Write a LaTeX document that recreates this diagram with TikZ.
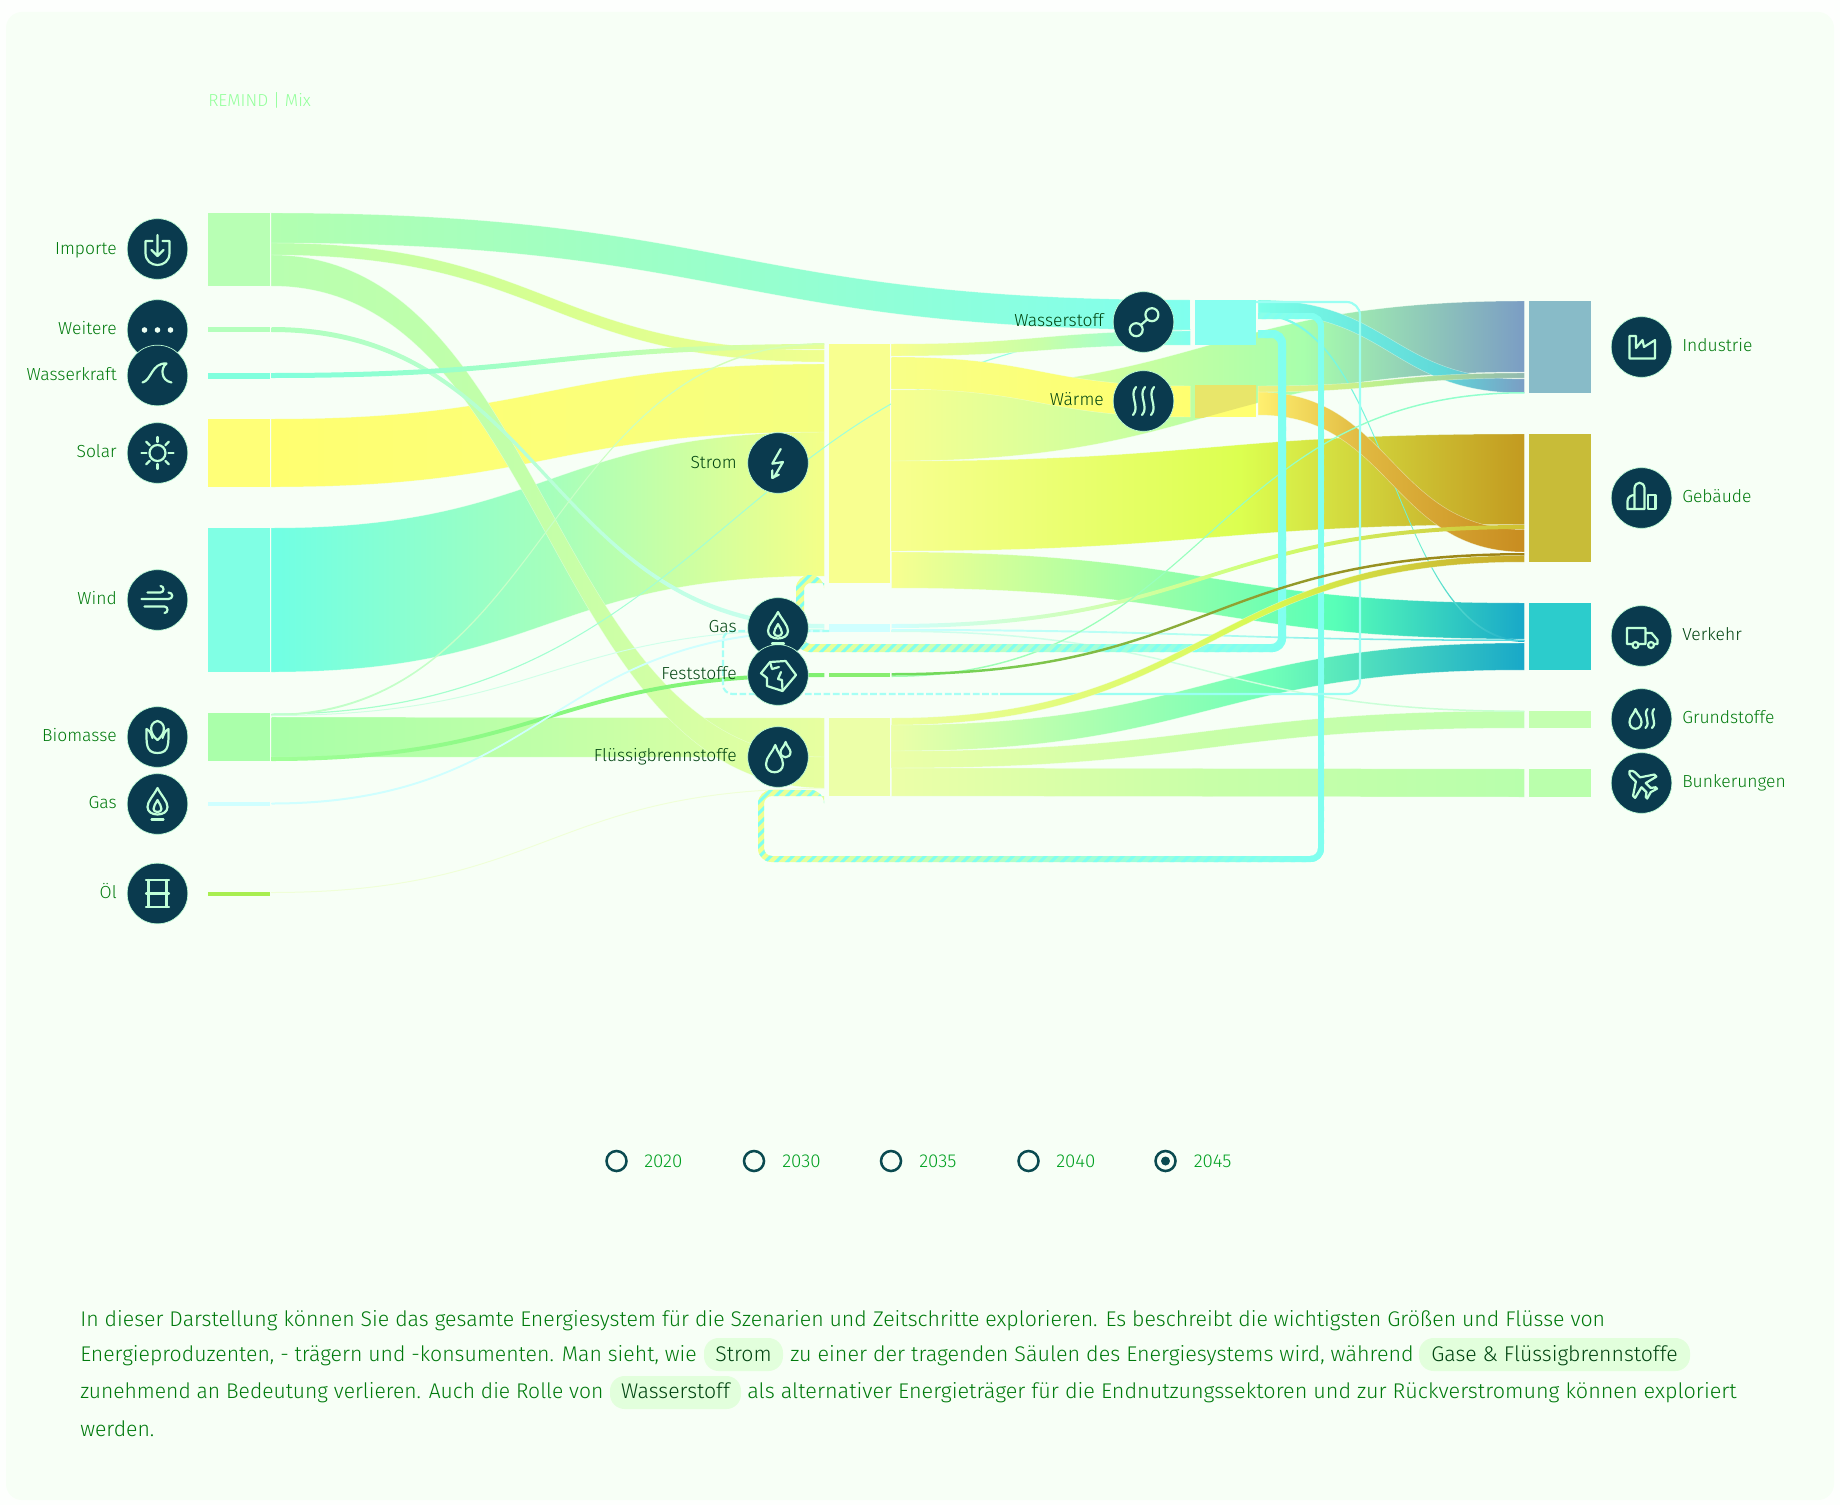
\documentclass[tikz,border=0pt]{standalone}
\usepackage{graphicx}
\usepackage{fontspec}
\setmainfont{Fira Sans Light}
\usetikzlibrary{calc}
\definecolor{pagebg}{HTML}{FDFFFD}
\definecolor{cardbg}{HTML}{F7FFF6}
\definecolor{iconbg}{HTML}{0A3A4E}
\definecolor{iconline}{HTML}{C0FFD8}
\definecolor{labelcol}{HTML}{007A0C}
\definecolor{darklab}{HTML}{004410}
\definecolor{yearcol}{HTML}{00A020}
\definecolor{pillcol}{HTML}{E2FFDC}
\definecolor{cyanloop}{HTML}{80FFF0}
\definecolor{radiocol}{HTML}{0A4A50}
\definecolor{titlecol}{HTML}{94FF9C}
\definecolor{loopyel}{HTML}{F0FF90}
\definecolor{loopmidA}{HTML}{B0FFD0}
\definecolor{loopmidB}{HTML}{A8FFD0}
\definecolor{edgecol}{HTML}{F0FFF0}
\definecolor{waeover}{HTML}{E8E66A}
\newcommand\mkshade[5]{\pgfdeclarehorizontalshading{#1}{100bp}{color(0bp)=(#2);color(25bp)=(#2);color(#3bp)=(#4);color(75bp)=(#5);color(100bp)=(#5)}}
\newcommand\hexcol[2]{\definecolor{#1}{HTML}{#2}}
\newcommand\mkflow[5]{\hexcol{#1a}{#2}\hexcol{#1b}{#4}\hexcol{#1c}{#5}\pgfmathsetmacro\stoppos{25+#3/2}\edef\tmpa{\noexpand\mkshade{#1}{#1a}{\stoppos}{#1b}{#1c}}\tmpa}
\mkflow{sImpH}{B2FFB0}{50}{98FFCC}{80FFEE}
\mkflow{sImpS}{B8FFB0}{50}{D8FF90}{F0FF90}
\mkflow{sImpF}{B8FFB0}{50}{C4FFA8}{E8FFA0}
\mkflow{sWei}{B0FFBC}{50}{B8FFD8}{CCFFF4}
\mkflow{sWas}{80FFDD}{50}{A8FFC0}{E8FF98}
\mkflow{sSol}{FFFF70}{50}{FCFF78}{F4FF80}
\mkflow{sWin}{70FFE4}{50}{A5FFBC}{F4FF88}
\mkflow{sBioH}{A8FFC8}{50}{A0FFD8}{90FFE8}
\mkflow{sBioS}{C0FFC8}{50}{C8FFC8}{D8FFB0}
\mkflow{sBioG}{D0FFE0}{50}{D0FFE8}{D0FFF0}
\mkflow{sBioX}{A0FF98}{50}{88F880}{80F070}
\mkflow{sBioF}{A8FFA8}{50}{C0FFA8}{E8FFA0}
\mkflow{sGasG}{CFFFFF}{50}{CFFFFF}{CFFFFF}
\mkflow{sOel}{F0FFD8}{50}{F0FFD8}{F0FFD8}
\mkflow{sStH}{F8FF90}{50}{C8FFA8}{80FFEE}
\mkflow{sStW}{F8FF88}{50}{FBFF78}{FFFF70}
\mkflow{sStI}{F8FF90}{65}{A8FFAC}{7B9DC4}
\mkflow{sStB}{F8FF90}{55}{DCFF50}{C39A20}
\mkflow{sStV}{F8FF90}{70}{58FFB8}{18A8C8}
\mkflow{sHI}{7AFFE8}{70}{60D8D8}{7B9DC4}
\mkflow{sHV}{80FFF0}{60}{70F0D0}{18A8C8}
\mkflow{sWaI}{F0F080}{50}{B8F090}{90B8B0}
\mkflow{sWaB}{FFF070}{40}{E0B840}{C88C20}
\mkflow{sGB}{D0FFFF}{60}{D0FF70}{D0C030}
\mkflow{sGV}{CCFFFF}{50}{B0FFF0}{50D8E0}
\mkflow{sGU}{D0FFF0}{50}{CCFFE0}{C8FFD0}
\mkflow{sFB}{70E060}{55}{90A030}{A08010}
\mkflow{sFI}{A0FFB0}{50}{98FFC0}{90FFD0}
\mkflow{sLB}{ECFFA0}{60}{D8F850}{C8A828}
\mkflow{sLV}{ECFFA8}{60}{70FFB8}{18A8C8}
\mkflow{sLG}{ECFFA8}{50}{C8FFA8}{C0FFB0}
\mkflow{sLK}{ECFFA8}{50}{C8FFA8}{B8FFAC}
\newcommand\flowpath[6]{%
  \coordinate (fs) at ([xshift=1.5pt]#1.east);
  \coordinate (fe) at ([xshift=-3.4pt]#4.west);
  \coordinate (fm) at ($(fs)!.5!(fe)$);
  \def\bandpath{(fs |- 0,#2) .. controls (fm |- 0,#2) and (fm |- 0,#5) .. (fe |- 0,#5)
    -- (fe |- 0,#6) .. controls (fm |- 0,#6) and (fm |- 0,#3) .. (fs |- 0,#3) -- cycle}}
\newcommand\flow[7]{\flowpath{#1}{#2}{#3}{#4}{#5}{#6}\path[shade,shading=#7,draw=edgecol,draw opacity=.5,line width=.35pt] \bandpath;}
\newcommand\thinflow[7]{\flowpath{#1}{#2}{#3}{#4}{#5}{#6}\path[shade,shading=#7] \bandpath;}
\newcommand\flowbar[6]{\hexcol{c#1}{#6}\node[barbox,fill=c#1,minimum width={(#3-#2)*.75pt},minimum height={(#5-#4)*.75pt}] (#1) at ({(#2+#3)/2},{(#4+#5)/2}) {};}
\newcommand\hatches{\foreach \c in {1000,1011,...,2300}{\draw[cyanloop,line width=2.2pt] (\c-200,200)--(\c-1000,1000);}}
\tikzset{
  barbox/.style={rectangle,inner sep=0pt,outer sep=0pt,draw=none},
  iconcirc/.style={circle,fill=iconbg,draw=iconline,line width=.5pt,minimum size=45.5pt,inner sep=0pt},
  ico/.style={draw=iconline,line width=1.65pt,line cap=round,line join=round},
  lab/.style={anchor=base east,text=labelcol,font=\fontsize{13.1pt}{15pt}\selectfont,inner sep=0pt},
  rlab/.style={anchor=base west,text=labelcol,font=\fontsize{13.1pt}{15pt}\selectfont,inner sep=0pt},
  para/.style={anchor=base west,text=labelcol,font=\fontsize{15.93pt}{18pt}\selectfont,inner sep=0pt},
  pill/.style={rectangle,rounded corners=11pt,fill=pillcol,inner sep=0pt},
  radio/.style={circle,draw=radiocol,line width=1.9pt,fill=none,minimum size=15pt,inner sep=0pt},
  yearlab/.style={anchor=base west,text=yearcol,font=\fontsize{14pt}{15pt}\selectfont,inner sep=0pt},
}
\newcommand\icongas{\draw[ico] (0,-16) .. controls (-4,-8) and (-10,-3) .. (-10,3) .. controls (-10,13) and (10,13) .. (10,3) .. controls (10,-3) and (4,-8) .. (0,-16) -- cycle;
  \draw[ico] (0,-4) .. controls (-2,0) and (-4,2) .. (-4,5) .. controls (-4,9) and (4,9) .. (4,5) .. controls (4,2) and (2,0) .. (0,-4) -- cycle;
  \draw[ico] (-6,15.5) -- (6,15.5);}
\begin{document}
\begin{tikzpicture}[x=.75pt,y=-.75pt]
\useasboundingbox (0,0) rectangle (1840,1505);
\fill[pagebg] (0,0) rectangle (1840,1505);
\fill[cardbg,rounded corners=12pt] (6,12) rectangle (1834,1500);
\node[anchor=base west,text=titlecol,font=\fontsize{13pt}{15pt}\selectfont,inner sep=0pt] (title) at (208,107) {REMIND | Mix};
\flowbar{bImp}{208}{269.5}{213}{286}{B8FFB4}
\flowbar{bWei}{208}{269.5}{327}{332}{B4FFBC}
\flowbar{bWas}{208}{269.5}{373}{378.5}{80FFDD}
\flowbar{bSol}{208}{269.5}{419}{487}{FFFF78}
\flowbar{bWin}{208}{269.5}{528}{672}{80FFE4}
\flowbar{bBio}{208}{269.5}{713}{761}{AAFFAA}
\flowbar{bGas}{208}{269.5}{802}{806}{CFFFFF}
\flowbar{bOel}{208}{269.5}{892}{896}{A8EE50}
\flowbar{bStrom}{829}{889.5}{344}{583}{F8FF90}
\flowbar{bGasM}{829}{889.5}{624}{632}{CFFFFF}
\flowbar{bFest}{829}{889.5}{673}{677}{88EE70}
\flowbar{bFl}{829}{889.5}{718}{796}{ECFFA8}
\flowbar{bH2}{1195}{1256}{300}{345}{88FFF0}
\flowbar{bWae}{1195}{1256}{385}{417}{FFFF70}
\flowbar{bInd}{1529}{1590.5}{301}{393}{88BBC8}
\flowbar{bGeb}{1529}{1590.5}{434}{562}{C8BC38}
\flowbar{bVer}{1529}{1590.5}{603}{670}{2CCCCC}
\flowbar{bGru}{1529}{1590.5}{711}{728}{C4FFB0}
\flowbar{bBun}{1529}{1590.5}{769}{797}{BAFFAC}
% inputs, bottom to top
\flow{bWin}{528}{672}{bStrom}{432}{576}{sWin}
\flow{bSol}{419}{487}{bStrom}{364}{432}{sSol}
\flow{bBio}{717}{757}{bFl}{718}{757}{sBioF}
\flow{bImp}{213}{243}{bH2}{300}{330}{sImpH}
\flow{bImp}{243}{255}{bStrom}{350}{362}{sImpS}
\flow{bImp}{255}{286}{bFl}{757}{788}{sImpF}
\thinflow{bWei}{327}{332}{bGasM}{624}{628.5}{sWei}
\thinflow{bWas}{373}{378}{bStrom}{344}{349}{sWas}
\thinflow{bBio}{713.5}{714.7}{bH2}{329}{330.2}{sBioH}
\thinflow{bBio}{714}{716}{bStrom}{343}{344.5}{sBioS}
\thinflow{bBio}{715}{716}{bGasM}{629}{630}{sBioG}
\thinflow{bBio}{757}{761}{bFest}{673}{677}{sBioX}
\thinflow{bGas}{802.5}{804.5}{bGasM}{630}{632}{sGasG}
\thinflow{bOel}{892}{893}{bFl}{788}{789}{sOel}
% outputs of Strom
\flow{bStrom}{344}{356}{bH2}{331}{345}{sStH}
\flow{bStrom}{390}{461}{bInd}{301}{372}{sStI}
\flow{bStrom}{357}{389}{bWae}{386}{417}{sStW}
\fill[cbH2] (bH2.north west) rectangle (bH2.south east);
\fill[cbWae] (bWae.north west) rectangle (bWae.south east);
\begin{scope}
\clip (bWae.north west) rectangle (bWae.south east);
\flowpath{bStrom}{390}{461}{bInd}{301}{372}\fill[waeover] \bandpath;
\end{scope}
\flow{bStrom}{461}{551}{bGeb}{434}{524.5}{sStB}
\flow{bStrom}{552}{588}{bVer}{603}{639}{sStV}
\flow{bFl}{725}{751}{bVer}{643}{670}{sLV}
\flow{bFl}{751}{768}{bGru}{711}{728}{sLG}
\flow{bFl}{768}{796}{bBun}{769}{797}{sLK}
% Wasserstoff, Waerme
\flow{bH2}{300}{313}{bInd}{379}{393}{sHI}
\thinflow{bH2}{313}{315.5}{bVer}{640}{642}{sHV}
\flow{bWae}{386}{392}{bInd}{373}{378}{sWaI}
\flow{bWae}{392}{415}{bGeb}{529.5}{552}{sWaB}
% Gas
\thinflow{bGasM}{624}{628}{bGeb}{525}{529}{sGB}
\thinflow{bGasM}{629}{631}{bVer}{639.5}{641}{sGV}
\thinflow{bGasM}{630.5}{632}{bGru}{710.5}{712}{sGU}
\thinflow{bFest}{675.5}{677}{bInd}{392}{393.5}{sFI}
% return loops
\def\ringA{(1258,330) [rounded corners=10pt] -- (1286,330) -- (1286,652) -- (796,652) -- (796,575) -- (824,575) [sharp corners] -- (824,583) -- (815,583) [rounded corners=5pt] -- (804,583) -- (804,644) -- (1278,644) -- (1278,338) -- (1268,338) [sharp corners] -- (1258,338) -- cycle}
\def\ringB{(1258,313) [rounded corners=10pt] -- (1324,313) -- (1324,862) -- (758,862) -- (758,790) -- (824,790) [sharp corners] -- (824,796) -- (815,796) [rounded corners=6pt] -- (764,796) -- (764,856) -- (1318,856) -- (1318,319) -- (1268,319) [sharp corners] -- (1258,319) -- cycle}
\path[shade,left color=loopyel,right color=cyanloop,middle color=loopmidB] \ringB;
\begin{scope}\clip \ringB; \hatches \end{scope}
\path[shade,left color=loopyel,right color=cyanloop,middle color=loopmidA] \ringA;
\begin{scope}\clip \ringA; \hatches \end{scope}
\draw[cyanloop!70!white,line width=1.6pt,dashed,dash pattern=on 5pt off 2pt,rounded corners=7pt] (bGasM.west |- 0,631) -- (723,631) -- (723,694) -- (1000,694);
\draw[cyanloop!80!white,line width=1.6pt,rounded corners=10pt] (1000,694) -- (1360,694) -- (1360,302) -- (bH2.east |- 0,302);
\thinflow{bFest}{673}{675.5}{bGeb}{553}{555.5}{sFB}
\flow{bFl}{718}{725}{bGeb}{555.5}{562}{sLB}
% icons and labels
\node[iconcirc] (iImp) at (157.5,249) {};
\node[iconcirc] (iWei) at (157.5,330) {};
\node[iconcirc] (iWas) at (157.5,375.5) {};
\node[iconcirc] (iSol) at (157.5,453) {};
\node[iconcirc] (iWin) at (157.5,600) {};
\node[iconcirc] (iBio) at (157.5,737) {};
\node[iconcirc] (iGas) at (157.5,804) {};
\node[iconcirc] (iOel) at (157.5,893.5) {};
\node[iconcirc] (iStr) at (778,463) {};
\node[iconcirc] (iGaM) at (778,628) {};
\node[iconcirc] (iFes) at (778,675) {};
\node[iconcirc] (iFlu) at (778,757) {};
\node[iconcirc] (iH2) at (1143.5,322) {};
\node[iconcirc] (iWae) at (1143.5,401) {};
\node[iconcirc] (iInd) at (1641.5,347) {};
\node[iconcirc] (iGeb) at (1641.5,498) {};
\node[iconcirc] (iVer) at (1641.5,636) {};
\node[iconcirc] (iGru) at (1641.5,719) {};
\node[iconcirc] (iBun) at (1641.5,783) {};
\begin{scope}[shift={(iImp)}]
\draw[ico] (-5,-8) -- (-12,-8) -- (-12,4) .. controls (-12,20) and (12,20) .. (12,4) -- (12,-8) -- (5,-8);
\draw[ico] (0,-14) -- (0,7) (-6,1) -- (0,7) -- (6,1);
\end{scope}
\begin{scope}[shift={(iWei)}]
\fill[iconline!30!white] (-13,0) circle[radius=2.8] (0,0) circle[radius=2.8] (13,0) circle[radius=2.8];
\end{scope}
\begin{scope}[shift={(iWas)}]
\draw[ico] (-15,7) .. controls (-6,5) and (-6,-13) .. (9,-12) .. controls (3,-8) and (3,5) .. (14,7);
\end{scope}
\begin{scope}[shift={(iSol)}]
\draw[ico] (0,0) circle[radius=8];
\foreach \a in {0,45,...,315}{\draw[ico] (\a:11) -- (\a:16);}
\end{scope}
\begin{scope}[shift={(iWin)}]
\draw[ico] (-10,-7.5) -- (3,-7.5) .. controls (7,-7.5) and (7,-14) .. (3,-14);
\draw[ico] (-16,-1) -- (11,-1) .. controls (16,-1) and (16,-7.5) .. (11,-7.5);
\draw[ico] (-13,6.5) -- (7,6.5) .. controls (11,6.5) and (11,13) .. (7,13);
\end{scope}
\begin{scope}[shift={(iBio)}]
\draw[ico] (0,-16) .. controls (-9,-14) and (-8,-3) .. (0,3) .. controls (8,-3) and (9,-14) .. (0,-16) -- cycle;
\draw[ico] (-11,-8) .. controls (-11,6) and (-12,16) .. (0,16) .. controls (12,16) and (11,6) .. (11,-8) .. controls (7,-6) and (6,-2) .. (5,1);
\draw[ico] (-11,-8) .. controls (-7,-6) and (-6,-2) .. (-5,1);
\end{scope}
\begin{scope}[shift={(iGas)}]\icongas\end{scope}
\begin{scope}[shift={(iGaM)}]\icongas\end{scope}
\begin{scope}[shift={(iOel)}]
\draw[ico] (-11.5,-13.5) -- (11.5,-13.5) (-11.5,0) -- (11.5,0) (-11.5,13.5) -- (11.5,13.5) (-9,-13.5) -- (-9,13.5) (9,-13.5) -- (9,13.5);
\end{scope}
\begin{scope}[shift={(iStr)}]
\draw[ico] (2.7,-14) -- (-5.7,.7) -- (5,-1) -- (-3.8,14) (-5.7,7.3) -- (-5.7,15) -- (.8,11.7);
\end{scope}
\begin{scope}[shift={(iFes)}]
\draw[ico] (-17,-1.7) -- (-8,-13) -- (7.6,-14) -- (18,0) -- (4.5,16) -- (-11,11) -- (-11,3) -- cycle;
\draw[ico] (-8,-13) -- (-6,-6) -- (1,-8) (3,-3) -- (0,4) -- (4,5) -- (4.5,16);
\end{scope}
\begin{scope}[shift={(iFlu)}]
\draw[ico] (-2.7,-12) .. controls (-5,-5) and (-12,0) .. (-12,7) .. controls (-12,18) and (5,18) .. (5,7) .. controls (5,0) and (-1,-5) .. (-2.7,-12) -- cycle;
\draw[ico] (7.6,-15) .. controls (6,-10) and (2.5,-8) .. (2.5,-5) .. controls (2.5,2) and (12.5,2) .. (12.5,-5) .. controls (12.5,-8) and (9,-10) .. (7.6,-15) -- cycle;
\end{scope}
\begin{scope}[shift={(iH2)}]
\draw[ico] (8.4,-7.3) circle[radius=6.5] (-7.3,7.7) circle[radius=6.5] (3.9,-2.8) -- (-2.8,3.2);
\end{scope}
\begin{scope}[shift={(iWae)}]
\foreach \x in {-9,0,9}{\draw[ico] (\x+1.5,-14) .. controls (\x-6,-6) and (\x+6,6) .. (\x-1.5,14);}
\end{scope}
\begin{scope}[shift={(iInd)}]
\draw[ico] (-12,-11) -- (-5.5,-11) -- (-5.5,1) -- (1,-7) -- (2.5,0) -- (13.5,-7) -- (13.5,11.5) -- (-12,11.5) -- cycle;
\end{scope}
\begin{scope}[shift={(iGeb)}]
\draw[ico] (-14,11) -- (-14,3) .. controls (-14,-1) and (-10,-3) .. (-7,-3) (-7,11) -- (-7,-10) .. controls (-6,-17) and (2,-17) .. (3,-10) -- (3,11) (-14,11) -- (3,11);
\draw[ico] (6.5,-3) rectangle (14,11);
\end{scope}
\begin{scope}[shift={(iVer)}]
\draw[ico] (-9,8) -- (-14.5,8) -- (-14.5,-8) -- (4,-8) -- (4,8) -- (-3,8) (4,-3) -- (10,-3) -- (16,4) -- (16,8) -- (13,8);
\draw[ico] (-6,9) circle[radius=3] (9.5,9) circle[radius=3];
\end{scope}
\begin{scope}[shift={(iGru)}]
\draw[ico] (-6,-10) .. controls (-7.5,-5) and (-12,-2) .. (-12,3) .. controls (-12,12) and (0,12) .. (0,3) .. controls (0,-2) and (-4.5,-5) .. (-6,-10) -- cycle;
\foreach \x in {6,12.5}{\draw[ico] (\x,-10) .. controls (\x-5,-4) and (\x+4,3) .. (\x-2,9);}
\end{scope}
\begin{scope}[shift={(iBun)},rotate=45]
\draw[ico] (0,-17) .. controls (2,-16) and (3,-14) .. (3,-12) -- (3,-5) -- (15,3) -- (15,6) -- (3,3) -- (3,10) -- (7,13) -- (7,15) -- (0,13) -- (-7,15) -- (-7,13) -- (-3,10) -- (-3,3) -- (-15,6) -- (-15,3) -- (-3,-5) -- (-3,-12) .. controls (-3,-14) and (-2,-16) .. (0,-17) -- cycle;
\end{scope}
\node[lab] (lImp) at (117,254) {Importe};
\node[lab] (lWei) at (117,334) {Weitere};
\node[lab] (lWas) at (117,380) {Wasserkraft};
\node[lab] (lSol) at (117,457) {Solar};
\node[lab] (lWin) at (117,604) {Wind};
\node[lab] (lBio) at (117,741) {Biomasse};
\node[lab] (lGas) at (117,808) {Gas};
\node[lab] (lOel) at (117,898) {Öl};
\node[lab,text=darklab] (lStr) at (737,468) {Strom};
\node[lab,text=darklab] (lGaM) at (737,632) {Gas};
\node[lab,text=darklab] (lFes) at (737,679) {Feststoffe};
\node[lab,text=darklab] (lFlu) at (737,761) {Flüssigbrennstoffe};
\node[lab,text=darklab] (lH2) at (1104,326) {Wasserstoff};
\node[lab,text=darklab] (lWae) at (1104,405) {Wärme};
\node[rlab] (lInd) at (1682,351) {Industrie};
\node[rlab] (lGeb) at (1682,502) {Gebäude};
\node[rlab,text=darklab] (lVer) at (1682,640) {Verkehr};
\node[rlab] (lGru) at (1682,723) {Grundstoffe};
\node[rlab] (lBun) at (1682,787) {Bunkerungen};
% year selector
\node[radio] (r20) at (616.5,1161) {};
\node[radio] (r30) at (754,1161) {};
\node[radio] (r35) at (891,1161) {};
\node[radio] (r40) at (1028.5,1161) {};
\node[radio] (r45) at (1165.5,1161) {};
\fill[radiocol] (r45.center) circle[radius=4.5];
\node[yearlab] (y20) at (644,1167) {2020};
\node[yearlab] (y30) at (782,1167) {2030};
\node[yearlab] (y35) at (919,1167) {2035};
\node[yearlab] (y40) at (1056,1167) {2040};
\node[yearlab] (y45) at (1193.5,1167) {2045};
% paragraph
\node[pill,minimum width={79*.75pt},minimum height={33*.75pt}] (pS) at (743.5,1354.5) {};
\node[pill,minimum width={271*.75pt},minimum height={33*.75pt}] (pG) at (1554.5,1354.5) {};
\node[pill,minimum width={131*.75pt},minimum height={33*.75pt}] (pW) at (675.5,1392.5) {};
\node[para] (t1) at (80,1326) {\scalebox{1.003}[1]{In dieser Darstellung können Sie das gesamte Energiesystem für die Szenarien und Zeitschritte explorieren. Es beschreibt die wichtigsten Größen und Flüsse von}};
\node[para] (t2a) at (80,1361) {Energieproduzenten, - trägern und -konsumenten. Man sieht, wie};
\node[para,anchor=base,text=darklab] (t2b) at (pS |- 0,1361) {Strom};
\node[para] (t2c) at (790,1361) {\scalebox{1.013}[1]{zu einer der tragenden Säulen des Energiesystems wird, während}};
\node[para,anchor=base,text=darklab] (t2d) at (pG |- 0,1361) {Gase \& Flüssigbrennstoffe};
\node[para] (t3a) at (80,1398) {\scalebox{.991}[1]{zunehmend an Bedeutung verlieren. Auch die Rolle von}};
\node[para,anchor=base,text=darklab] (t3b) at (pW |- 0,1398) {Wasserstoff};
\node[para] (t3c) at (747,1398) {\scalebox{1.017}[1]{als alternativer Energieträger für die Endnutzungssektoren und zur Rückverstromung können exploriert}};
\node[para] (t4) at (80,1436) {werden.};
\end{tikzpicture}
\end{document}
